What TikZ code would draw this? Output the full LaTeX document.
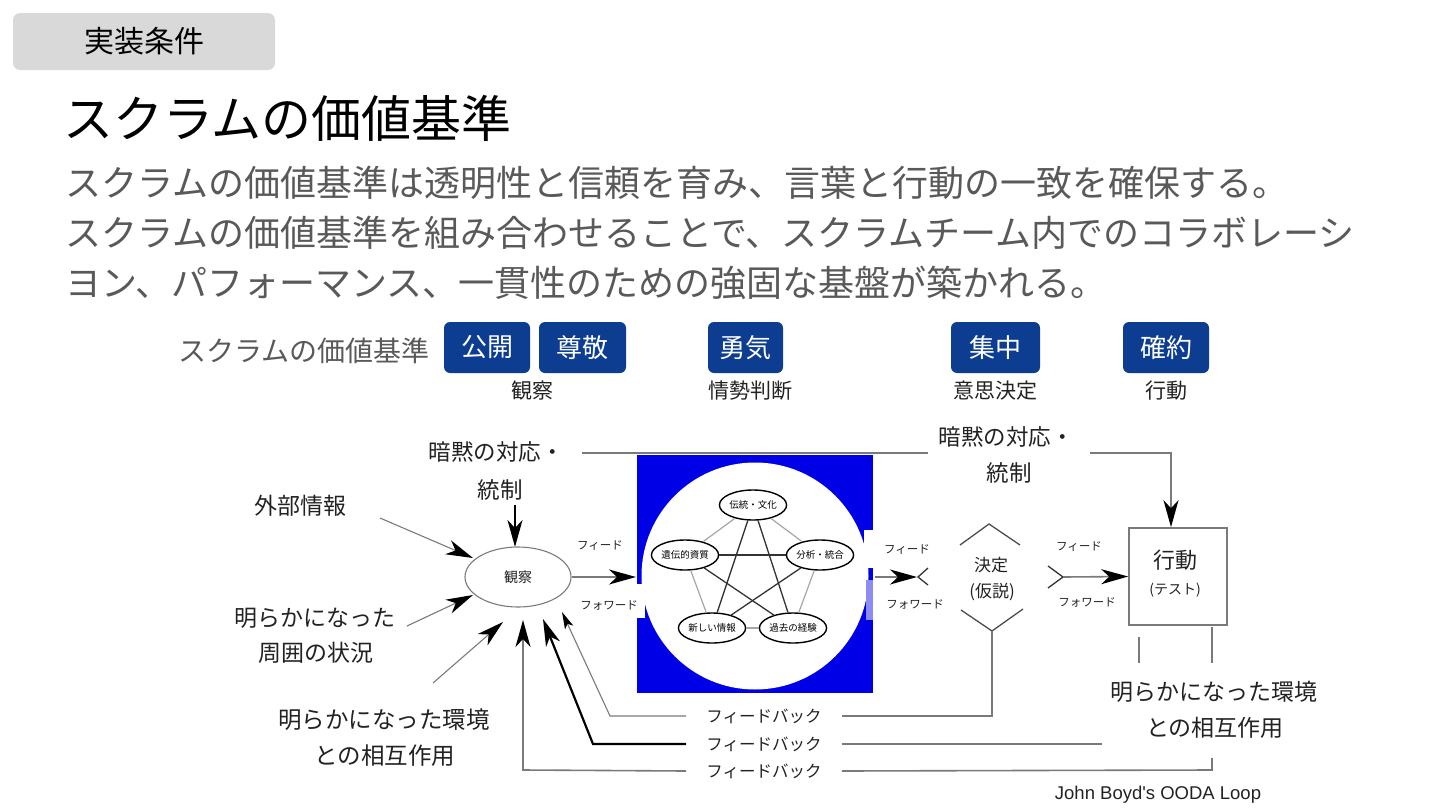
\documentclass[tikz,border=0pt]{standalone}
\usepackage{fontspec}
\setmainfont{Noto Sans CJK JP}
\newfontfamily\latinsans{Liberation Sans}
\usetikzlibrary{arrows.meta,shapes.geometric}
\definecolor{txtgray}{HTML}{595959}
\definecolor{valblue}{HTML}{0D3D91}
\definecolor{sqblue}{HTML}{0000E6}
\definecolor{taggray}{HTML}{D9D9D9}
\definecolor{lgray}{HTML}{7A7A7A}
\definecolor{dtext}{HTML}{222222}
\newcommand{\fsz}[1]{\fontsize{#1}{#1}\selectfont}
\begin{document}
\begin{tikzpicture}[x=1pt,y=-1pt,
  tagbox/.style={fill=taggray, rounded corners=7pt, minimum width=262pt, minimum height=57pt, inner sep=0pt, font=\fsz{30}},
  para/.style={anchor=west, inner sep=0pt, text=txtgray, font=\fsz{36}},
  vbox/.style={fill=valblue, rounded corners=6pt, text=white, minimum height=51pt, inner sep=0pt, font=\fsz{26}},
  vlabel/.style={text=dtext, inner sep=0pt, font=\fsz{21}},
  dlabel/.style={text=dtext, inner sep=0pt, font=\fsz{22.5}},
  fflabel/.style={text=dtext, inner sep=0pt, font=\fsz{11.5}},
  fblabel/.style={text=dtext, inner xsep=20pt, inner ysep=0pt, font=\fsz{16.5}},
  penta/.style={draw=black, line width=1.4pt, ellipse, fill=white, inner sep=0pt, minimum width=64pt, minimum height=30pt, font=\fsz{9.5}},
  pedge/.style={draw=gray!70, line width=1.2pt},
  sedge/.style={draw=black!80, line width=1.3pt},
  gline/.style={draw=lgray, line width=1.6pt},
  thinline/.style={draw=lgray, line width=1.1pt},
  bigtip/.style={-{Stealth[length=27pt,width=15pt,inset=8pt,color=black]}},
  smalltip/.style={-{Stealth[length=17pt,width=9pt,inset=4pt,color=black]}},
  chev/.style={draw=black!80, line width=1.3pt}
]
\useasboundingbox (0,0) rectangle (1440,811);

% header
\node[tagbox] (tag) at (144,41.5) {実装条件};
\node[anchor=west, inner sep=0pt, font=\fsz{50}] (title) at (63,118) {スクラムの価値基準};
\node[para] (p1) at (65,183) {スクラムの価値基準は透明性と信頼を育み、言葉と行動の一致を確保する。};
\node[para] (p2) at (65,233) {スクラムの価値基準を組み合わせることで、スクラムチーム内でのコラボレーシ};
\node[para] (p3) at (65,283) {ヨン、パフォーマンス、一貫性のための強固な基盤が築かれる。};

% values row
\node[anchor=west, inner sep=0pt, text=txtgray, font=\fsz{28}] (vals) at (178,351) {スクラムの価値基準};
\node[vbox, minimum width=86pt] (v1) at (487,347.5) {公開};
\node[vbox, minimum width=87pt] (v2) at (582.5,347.5) {尊敬};
\node[vbox, minimum width=75pt] (v3) at (745.5,347.5) {勇気};
\node[vbox, minimum width=89pt] (v4) at (995.5,347.5) {集中};
\node[vbox, minimum width=86pt] (v5) at (1166,347.5) {確約};
\node[vlabel] (l1) at (532,391) {観察};
\node[vlabel] (l2) at (750,391) {情勢判断};
\node[vlabel] (l3) at (995,391) {意思決定};
\node[vlabel] (l4) at (1166,391) {行動};

% top tacit line
\coordinate (tl0) at (582,453);
\coordinate (tl1) at (928,453);
\draw[gline] (tl0) -- (tl1);

% blue square with circle
\fill[sqblue] (637,455) rectangle (873,693);
\fill[white] (755,576) circle (113.5pt);
\fill[white] (635,584) rectangle (645,618);
\fill[white] (864,530) rectangle (875,568);
\fill[sqblue!45] (866,580) rectangle (873,620);

% pentagon
\node[penta] (pa) at (753,505) {伝統・文化};
\node[penta] (pb) at (685,555) {遺伝的資質};
\node[penta] (pc) at (820,555) {分析・統合};
\node[penta] (pd) at (712,628) {新しい情報};
\node[penta] (pe) at (793,628) {過去の経験};
\draw[pedge] (pa) -- (pb);
\draw[pedge] (pa) -- (pc);
\draw[pedge] (pb) -- (pd);
\draw[pedge] (pc) -- (pe);
\draw[pedge] (pd) -- (pe);
\draw[sedge] (pa) -- (pd);
\draw[sedge] (pa) -- (pe);
\draw[sedge] (pb) -- (pc);
\draw[sedge] (pb) -- (pe);
\draw[sedge] (pc) -- (pd);

% observe
\node[draw=lgray, line width=1.1pt, ellipse, minimum width=106pt, minimum height=60pt, inner sep=0pt, font=\fsz{14}, text=dtext] (obs) at (518,577) {観察};

% left texts
\node[dlabel] (tacL1) at (496,452) {暗黙の対応・};
\node[dlabel] (tacL2) at (500,490) {統制};
\node[dlabel, font=\fsz{23}] (ext) at (300,506) {外部情報};
\node[dlabel, font=\fsz{23}] (sur1) at (315,618) {明らかになった};
\node[dlabel, font=\fsz{23}] (sur2) at (316,653) {周囲の状況};
\node[dlabel, font=\fsz{23.5}] (env1) at (384,720) {明らかになった環境};
\node[dlabel, font=\fsz{23.5}] (env2) at (385,756) {との相互作用};

% arrows into observe
\coordinate (extE) at (380,518);
\coordinate (extT) at (473,558);
\draw[thinline, bigtip] (extE) -- (extT);
\coordinate (surE) at (407,626);
\coordinate (surT) at (473,595);
\draw[thinline, bigtip] (surE) -- (surT);
\coordinate (envE) at (433,683);
\coordinate (envT) at (503,622);
\draw[thinline, bigtip] (envE) -- (envT);
\coordinate (tacS) at (515,505);
\coordinate (tacT) at (515,547);
\draw[black, line width=2pt, bigtip] (tacS) -- (tacT);

% observe -> orient
\coordinate (sqL) at (636,577);
\draw[gline, bigtip] (obs.east) -- (sqL);
\node[fflabel] (ff1a) at (600,546) {フィード};
\node[fflabel] (ff1b) at (609,605) {フォワード};

% orient -> decide
\coordinate (sqR) at (875,577);
\coordinate (ch1) at (917,577);
\draw[gline, bigtip] (sqR) -- (ch1);
\draw[chev] (928,568) -- (918,577) -- (928,585);
\node[fflabel] (ff2a) at (907,550) {フィード};
\node[fflabel] (ff2b) at (915,604) {フォワード};

% decide
\coordinate (decT) at (989,524);
\coordinate (decB) at (992,631);
\draw[chev, draw=black!70] (960,545) -- (decT) -- (1020,545);
\draw[chev, draw=black!70] (961,610) -- (decB) -- (1023,609);
\node[text=dtext, inner sep=0pt, font=\fsz{17}] (dec1) at (991,565) {決定};
\node[text=dtext, inner sep=0pt, font=\fsz{17}] (dec2) at (992,592) {(仮説)};

% decide -> act
\node[draw=lgray, line width=1.6pt, minimum width=98pt, minimum height=97pt, inner sep=0pt] (act) at (1178,576.5) {};
\node[text=dtext, inner sep=0pt, font=\fsz{22}] (act1) at (1175,560) {行動};
\node[text=dtext, inner sep=0pt, font=\fsz{14}] (act2) at (1175,590) {(テスト)};
\draw[chev] (1048,566) -- (1063,577) -- (1048,588);
\coordinate (ch2) at (1063,577);
\draw[gline, bigtip] (ch2) -- (act.west);
\node[fflabel] (ff3a) at (1079,547) {フィード};
\node[fflabel] (ff3b) at (1087,602) {フォワード};

% right tacit
\node[dlabel] (tacR1) at (1006,437) {暗黙の対応・};
\node[dlabel] (tacR2) at (1009,473) {統制};
\coordinate (tr0) at (1090,453);
\coordinate (tr1) at (1171,453);
\draw[gline, bigtip] (tr0) -- (tr1) -- (tr1 |- act.north);

% act bottom lines
\draw[gline] (1139,637) -- (1139,663);
\draw[gline] (1212,627) -- (1212,663);
\node[dlabel, font=\fsz{23}] (envR1) at (1214,692) {明らかになった環境};
\node[dlabel, font=\fsz{23}] (envR2) at (1215,728) {との相互作用};

% feedback
\node[fblabel] (fb1) at (764,716) {フィードバック};
\node[fblabel] (fb2) at (764,744) {フィードバック};
\node[fblabel] (fb3) at (764,771) {フィードバック};
\coordinate (fb1r) at (992,716);
\draw[gline] (decB) -- (fb1r) -- (fb1.east);
\coordinate (fb1l) at (610,716);
\coordinate (fb1t) at (562,612);
\draw[thinline, smalltip] (fb1.west) -- (fb1l) -- (fb1t);
\coordinate (fb2r) at (1102,744);
\draw[gline] (fb2.east) -- (fb2r);
\coordinate (fb2l) at (593,744);
\coordinate (fb2t) at (543,619);
\draw[black, line width=2.2pt, bigtip] (fb2.west) -- (fb2l) -- (fb2t);
\coordinate (fb3r) at (1212,770);
\coordinate (fb3u) at (1212,758);
\draw[gline] (fb3.east) -- (fb3r) -- (fb3u);
\coordinate (fb3l) at (523,770);
\coordinate (fb3t) at (523,620);
\draw[gline, bigtip] (fb3.west) -- (fb3l) -- (fb3t);

\node[text=dtext, inner sep=0pt, font=\latinsans\fsz{18.5}] (credit) at (1158,795) {John Boyd's OODA Loop};
\end{tikzpicture}
\end{document}
